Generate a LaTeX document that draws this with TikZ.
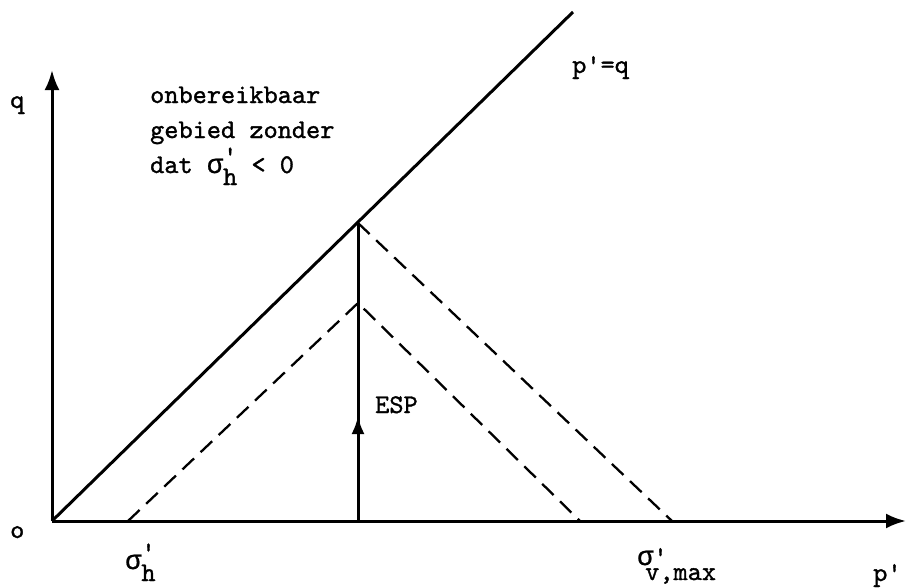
\documentclass[tikz,border=0pt]{standalone}
\usepackage{fontspec}
\newfontfamily\twfont{lmmono10-regular.otf}[FakeBold=1.2,Ligatures=NoCommon]
\newfontfamily\grfont{Liberation Mono}[FakeBold=0.8]
\usetikzlibrary{arrows.meta}
\newcommand{\sgm}{{\grfont σ}}
\newcommand{\sigpr}[2]{\sgm\rlap{\raisebox{0.32em}{'}}\raisebox{-#2}{#1}}
\begin{document}
\begin{tikzpicture}[x=1pt,y=-1pt,
  axisline/.style={line width=3pt,-{Latex[length=20pt,width=15pt]}},
  thickline/.style={line width=3pt},
  dashline/.style={line width=2.3pt,dash pattern=on 16pt off 9pt},
  txt/.style={font=\twfont\fontsize{27}{35}\selectfont,inner sep=0pt,anchor=base west}]
\useasboundingbox (0,0) rectangle (911,587);
\coordinate (O) at (52,521);
\coordinate (qtop) at (52,70);
\coordinate (ptip) at (906,521);
\coordinate (K) at (573,12);
\coordinate (A) at (358,223);
\coordinate (B) at (358,303);
\coordinate (H) at (128,521);
\coordinate (M) at (580,521);
\coordinate (V) at (672,521);
\coordinate (E) at (358,521);
\coordinate (Emid) at (358,416);
\draw[axisline] (O) -- (qtop);
\draw[axisline] (O) -- (ptip);
\draw[thickline] (O) -- (K);
\draw[thickline] (E) -- (A);
\draw[line width=3pt,-{Latex[length=18pt,width=13pt]}] (E) -- (Emid);
\draw[dashline] (H) -- (B) -- (M);
\draw[dashline] (A) -- (V);
\node[txt] (q) at (10,108) {q};
\node[txt,align=left] (region) at (150,173) {onbereikbaar\\gebied zonder\\dat \sigpr{\textbf{h}}{12pt} < 0};
\node[txt] (pq) at (572,73) {p'=q};
\node[txt] (esp) at (375,413) {ESP};
\node[txt] (o) at (10,538) {o};
\node[txt] (sh) at (125,569) {\sigpr{h}{12pt}};
\node[txt] (sv) at (637,565) {\sgm'};
\node[txt] (svsub) at (645,580) {v,max};
\node[txt] (p) at (873,581) {p'};
\end{tikzpicture}
\end{document}
